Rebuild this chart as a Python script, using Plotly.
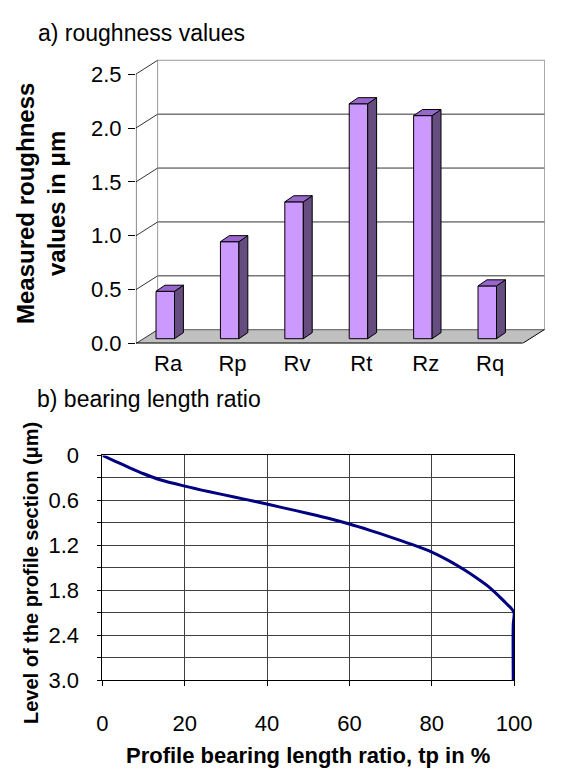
import plotly.graph_objects as go

# ---------------- data ----------------
categories = ["Ra", "Rp", "Rv", "Rt", "Rz", "Rq"]
roughness_um = [0.44, 0.90, 1.27, 2.18, 2.07, 0.49]
y_ticks_top = [0.0, 0.5, 1.0, 1.5, 2.0, 2.5]

tp_percent = [0, 3, 6, 10, 14, 20, 26, 32, 38, 44, 50, 56, 60, 65, 70, 75,
              80, 85, 88, 91, 94, 96, 98, 99.3, 100, 99.8, 99.8]
level_um = [0, 0.075, 0.15, 0.245, 0.325, 0.41, 0.485, 0.555, 0.625, 0.70,
            0.775, 0.855, 0.915, 1.0, 1.09, 1.185, 1.29, 1.43, 1.53, 1.64,
            1.76, 1.86, 1.97, 2.04, 2.10, 2.25, 3.0]
x_ticks_bottom = [0, 20, 40, 60, 80, 100]
y_ticks_bottom = [0, 0.3, 0.6, 0.9, 1.2, 1.5, 1.8, 2.1, 2.4, 2.7, 3.0]
y_ticktext_bottom = ["0", "", "0.6", "", "1.2", "", "1.8", "", "2.4", "", "3.0"]

# ---------------- geometry / style ----------------
W, H = 563, 769
FONT = "Liberation Sans, Arial, sans-serif"

# top panel pixel geometry
PX_X0 = 169.35      # pixel of category 0
PX_PER_X = 67.27    # pixels per category
PX_Y0 = 342.7       # pixel of value 0 (front plane)
PX_PER_Y = 111.4    # pixels per unit
LEFT_PX = 135.7
TOP_PX = 45.0
x_rng = [(LEFT_PX - PX_X0) / PX_PER_X, (W - PX_X0) / PX_PER_X]
y_rng = [0, (PX_Y0 - TOP_PX) / PX_PER_Y]

DX = 22.7 / PX_PER_X      # full depth (x units)
DY = 14.3 / PX_PER_Y      # full depth (y units)
BAR_BASE = 5.0 / PX_PER_Y
BAR_OFF = -0.188
BAR_W = 0.287
BDX = 9.3 / PX_PER_X
BDY = 6.3 / PX_PER_Y

FRONT = "#CC99FF"
SIDE = "#664D80"
TOPC = "#9966CC"

fig = go.Figure()

idx = list(range(len(categories)))

# bar front faces
fig.add_trace(go.Bar(
    x=idx, y=roughness_um, base=BAR_BASE, width=BAR_W, offset=BAR_OFF,
    marker=dict(color=FRONT, line=dict(color="black", width=1)),
    xaxis="x", yaxis="y", hoverinfo="skip", showlegend=False))

# side and top faces
side_x, side_y, top_x, top_y = [], [], [], []
for i, v in zip(idx, roughness_um):
    xr = i + BAR_OFF + BAR_W
    xl = i + BAR_OFF
    yb = BAR_BASE
    yt = BAR_BASE + v
    side_x += [xr, xr + BDX, xr + BDX, xr, xr, None]
    side_y += [yb, yb + BDY, yt + BDY, yt, yb, None]
    top_x += [xl, xr, xr + BDX, xl + BDX, xl, None]
    top_y += [yt, yt, yt + BDY, yt + BDY, yt, None]
fig.add_trace(go.Scatter(x=side_x, y=side_y, mode="lines", fill="toself",
                         fillcolor=SIDE, line=dict(color="black", width=1),
                         hoverinfo="skip", showlegend=False, xaxis="x", yaxis="y"))
fig.add_trace(go.Scatter(x=top_x, y=top_y, mode="lines", fill="toself",
                         fillcolor=TOPC, line=dict(color="black", width=1),
                         hoverinfo="skip", showlegend=False, xaxis="x", yaxis="y"))

# bearing curve
fig.add_trace(go.Scatter(x=tp_percent, y=level_um, mode="lines",
                         line=dict(color="#000080", width=3, shape="spline",
                                   smoothing=0.8),
                         hoverinfo="skip", showlegend=False,
                         xaxis="x2", yaxis="y2", cliponaxis=True))

# ---------------- 3D frame shapes (below traces) ----------------
shapes = []
xl0 = x_rng[0]
xb0 = xl0 + DX
xmax = x_rng[1] - 0.005
ytop_back = y_ticks_top[-1] + DY
# back wall gridlines
for v in y_ticks_top[1:-1]:
    shapes.append(dict(type="line", xref="x", yref="y", layer="below",
                       x0=xb0, x1=x_rng[1], y0=v + DY, y1=v + DY,
                       line=dict(color="#333333", width=1)))
# back wall border
shapes.append(dict(type="line", xref="x", yref="y", layer="below",
                   x0=xb0, x1=xb0, y0=DY, y1=ytop_back,
                   line=dict(color="#999999", width=1)))
shapes.append(dict(type="line", xref="x", yref="y", layer="below",
                   x0=xb0, x1=x_rng[1], y0=ytop_back, y1=ytop_back,
                   line=dict(color="#999999", width=1)))
shapes.append(dict(type="line", xref="x", yref="y", layer="below",
                   x0=xmax, x1=xmax, y0=DY, y1=ytop_back,
                   line=dict(color="#999999", width=1)))
# left wall diagonals
for v in y_ticks_top[1:]:
    shapes.append(dict(type="line", xref="x", yref="y", layer="below",
                       x0=xl0, x1=xb0, y0=v, y1=v + DY,
                       line=dict(color="#333333", width=1)))
# floor
x_front_r = len(categories) - 0.5
shapes.append(dict(type="path", xref="x", yref="y", layer="below",
                   path=f"M {xl0},0 L {x_front_r},0 L {x_front_r + DX},{DY} L {xb0},{DY} Z",
                   fillcolor="#C0C0C0", line=dict(width=0)))
shapes.append(dict(type="line", xref="x", yref="y", layer="below",
                   x0=xb0, x1=x_rng[1], y0=DY, y1=DY,
                   line=dict(color="#555555", width=1)))
shapes.append(dict(type="line", xref="x", yref="y", layer="below",
                   x0=xl0, x1=xb0, y0=0, y1=DY,
                   line=dict(color="#333333", width=1)))
shapes.append(dict(type="line", xref="x", yref="y", layer="below",
                   x0=x_front_r, x1=x_front_r + DX, y0=0, y1=DY,
                   line=dict(color="black", width=1)))
shapes.append(dict(type="line", xref="x", yref="y", layer="below",
                   x0=xl0, x1=x_front_r, y0=0, y1=0,
                   line=dict(color="black", width=2)))
# front value axis line
shapes.append(dict(type="line", xref="x", yref="y", layer="below",
                   x0=xl0, x1=xl0, y0=0, y1=y_ticks_top[-1],
                   line=dict(color="black", width=1)))

# ---------------- layout ----------------
def px_x(p):
    return p / W


def px_y(p):
    return 1 - p / H


fig.update_layout(
    width=W, height=H, autosize=False,
    margin=dict(l=0, r=0, t=0, b=0),
    paper_bgcolor="white", plot_bgcolor="white",
    font=dict(family=FONT, color="black", size=20),
    showlegend=False,
    shapes=shapes,
    xaxis=dict(domain=[px_x(LEFT_PX), 1.0], range=x_rng, anchor="y",
               tickvals=idx, ticktext=categories, ticks="",
               showgrid=False, zeroline=False, showline=False,
               tickfont=dict(size=22), ticklabelstandoff=4, fixedrange=True),
    yaxis=dict(domain=[px_y(PX_Y0), px_y(TOP_PX)], range=y_rng, anchor="x",
               tickvals=y_ticks_top, ticktext=[f"{v:.1f}" for v in y_ticks_top],
               ticks="outside", ticklen=7, tickcolor="black", tickwidth=1,
               showgrid=False, zeroline=False, showline=False,
               tickfont=dict(size=22), ticklabelstandoff=2, fixedrange=True),
    xaxis2=dict(domain=[px_x(100.7), px_x(530.7)], range=[0, 100], anchor="y2",
                tickvals=x_ticks_bottom, ticks="outside", ticklen=5,
                tickcolor="black", showline=True, linecolor="black", linewidth=1,
                mirror=True, showgrid=True, gridcolor="#404040", gridwidth=1,
                zeroline=False, tickfont=dict(size=22), ticklabelstandoff=18,
                fixedrange=True),
    yaxis2=dict(domain=[px_y(690.7), px_y(458.3)], range=[3.0, 0], anchor="x2",
                tickvals=y_ticks_bottom, ticktext=y_ticktext_bottom,
                ticks="outside", ticklen=4, tickcolor="black",
                showline=True, linecolor="black", linewidth=1, mirror=True,
                showgrid=True, gridcolor="#404040", gridwidth=1,
                zeroline=False, tickfont=dict(size=22), ticklabelstandoff=14,
                fixedrange=True),
    annotations=[
        dict(text="a) roughness values", x=px_x(31), y=px_y(22),
             xref="paper", yref="paper", xanchor="left", yanchor="middle",
             showarrow=False, font=dict(size=23)),
        dict(text="<b>Measured roughness<br>values in μm</b>", x=px_x(36),
             y=px_y(198), xref="paper", yref="paper", xanchor="center",
             yanchor="middle", textangle=-90, showarrow=False,
             font=dict(size=24)),
        dict(text="b) bearing length ratio", x=px_x(30), y=px_y(400),
             xref="paper", yref="paper", xanchor="left", yanchor="middle",
             showarrow=False, font=dict(size=23)),
        dict(text="<b>Level of the profile section (μm)</b>", x=px_x(26),
             y=px_y(580), xref="paper", yref="paper", xanchor="center",
             yanchor="middle", textangle=-90, showarrow=False,
             font=dict(size=20)),
        dict(text="<b>Profile bearing length ratio, tp in %</b>",
             x=px_x(315.7), y=px_y(768), xref="paper", yref="paper",
             xanchor="center", yanchor="middle", showarrow=False,
             font=dict(size=22)),
    ],
)

fig.write_html("out.html")
